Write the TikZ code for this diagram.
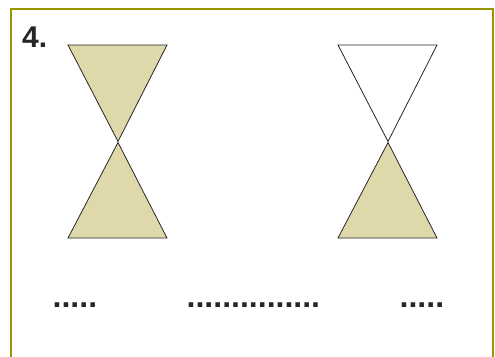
\documentclass[tikz,border=0pt]{standalone}
\usepackage{fontspec}
\setmainfont{Liberation Sans}
\definecolor{frameol}{RGB}{154,150,0}
\definecolor{tanfill}{RGB}{222,216,170}
\tikzset{
  tri/.style={draw=black!85, line width=0.8pt, line join=miter},
  filled/.style={tri, fill=tanfill},
  blank/.style={tri, fill=white},
  dotsline/.style={inner sep=0pt, anchor=base west, font=\fontsize{32}{32}\selectfont\bfseries, text=black!85},
}
\begin{document}
\begin{tikzpicture}[x=1pt,y=-1pt]
\useasboundingbox (0,0) rectangle (495,356);
% frame
\draw[frameol, line width=2pt] (11,360) -- (11,9) -- (493,9) -- (493,360);
% label
\node[inner sep=0pt, anchor=base west, font=\fontsize{30}{30}\selectfont\bfseries, text=black!85] (num) at (22,47) {4.};
% left hourglass
\draw[filled] (68,45) -- (167,45) -- (118,141.5) -- cycle;
\draw[filled] (68,238) -- (167,238) -- (118,142.5) -- cycle;
% right hourglass
\draw[blank] (338,45) -- (437,45) -- (388,141.5) -- cycle;
\draw[filled] (338,238) -- (437,238) -- (388,142.5) -- cycle;
% dots
\node[dotsline] (d1) at (52.5,307) {.....};
\node[dotsline] (d2) at (186.5,307) {...............};
\node[dotsline] (d3) at (399.5,307) {.....};
\end{tikzpicture}
\end{document}
